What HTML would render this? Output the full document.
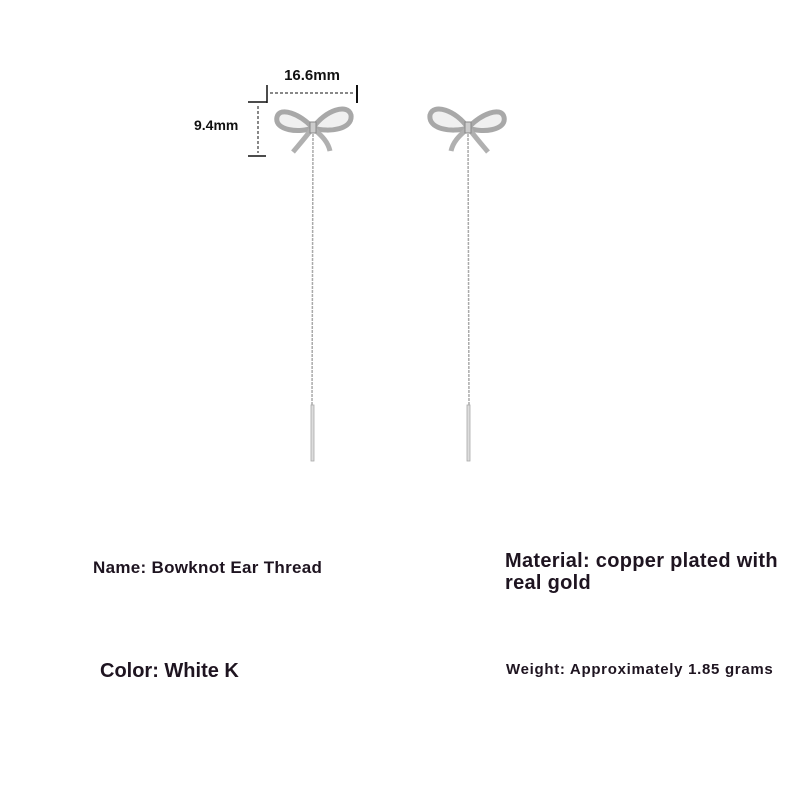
<!DOCTYPE html>
<html><head><style>
body{margin:0;background:#fff;width:800px;height:800px;overflow:hidden;position:relative;font-family:"Liberation Sans",sans-serif}
.t{position:absolute;font-weight:bold;color:#1e1420;white-space:nowrap}
</style></head><body>
<svg width="800" height="800" style="position:absolute;left:0;top:0">
<g stroke="#111" fill="none">
<line x1="267" y1="85" x2="267" y2="103" stroke-width="1.5"/>
<line x1="357" y1="85" x2="357" y2="103" stroke-width="2"/>
<line x1="270" y1="93" x2="355" y2="93" stroke-dasharray="3,2"/>
<line x1="248" y1="102" x2="267" y2="102" stroke-width="1.5"/>
<line x1="248" y1="156" x2="266" y2="156" stroke-width="1.5"/>
<line x1="258" y1="106" x2="258" y2="153" stroke-dasharray="3,2"/>
</g>
<text x="312" y="80" font-size="15" font-weight="bold" text-anchor="middle" fill="#111" font-family="Liberation Sans">16.6mm</text>
<text x="194" y="130" font-size="14" font-weight="bold" fill="#111" font-family="Liberation Sans">9.4mm</text>
<g id="e" fill="none">
<path d="M313,128 C300,114 280,106 277,117 C274,131 300,133 313,128 Z" stroke-width="5" stroke="#a8a8a8" fill="#f0f0f0"/>
<path d="M313,128 C325,110 348,103 351,115 C353,129 330,133 313,128 Z" stroke-width="5" stroke="#a8a8a8" fill="#f0f0f0"/>
<path d="M311,130 C305,138 298,146 293,152" stroke-width="5" stroke="#b0b0b0"/>
<path d="M315,130 C322,136 328,142 330,151" stroke-width="5" stroke="#b0b0b0"/>
<rect x="310" y="122" width="6" height="11" fill="#ccc" stroke="#888"/>
<line x1="313" y1="134" x2="312" y2="405" stroke="#aaa" stroke-width="1.5" stroke-dasharray="3,1"/>
<rect x="311" y="405" width="3" height="56" fill="#ddd" stroke="#aaa" stroke-width="0.8"/>
</g>
<use href="#e" transform="translate(781,0) scale(-1,1)"/>
</svg>
<div class="t" style="left:93px;top:558px;font-size:17px;letter-spacing:0.3px">Name: Bowknot Ear Thread</div>
<div class="t" style="left:505px;top:550px;font-size:20px;line-height:22px;letter-spacing:0.3px">Material: copper plated with<br>real gold</div>
<div class="t" style="left:100px;top:660px;font-size:20px">Color: White K</div>
<div class="t" style="left:506px;top:661px;font-size:15px;letter-spacing:0.7px">Weight: Approximately 1.85 grams</div>
</body></html>
